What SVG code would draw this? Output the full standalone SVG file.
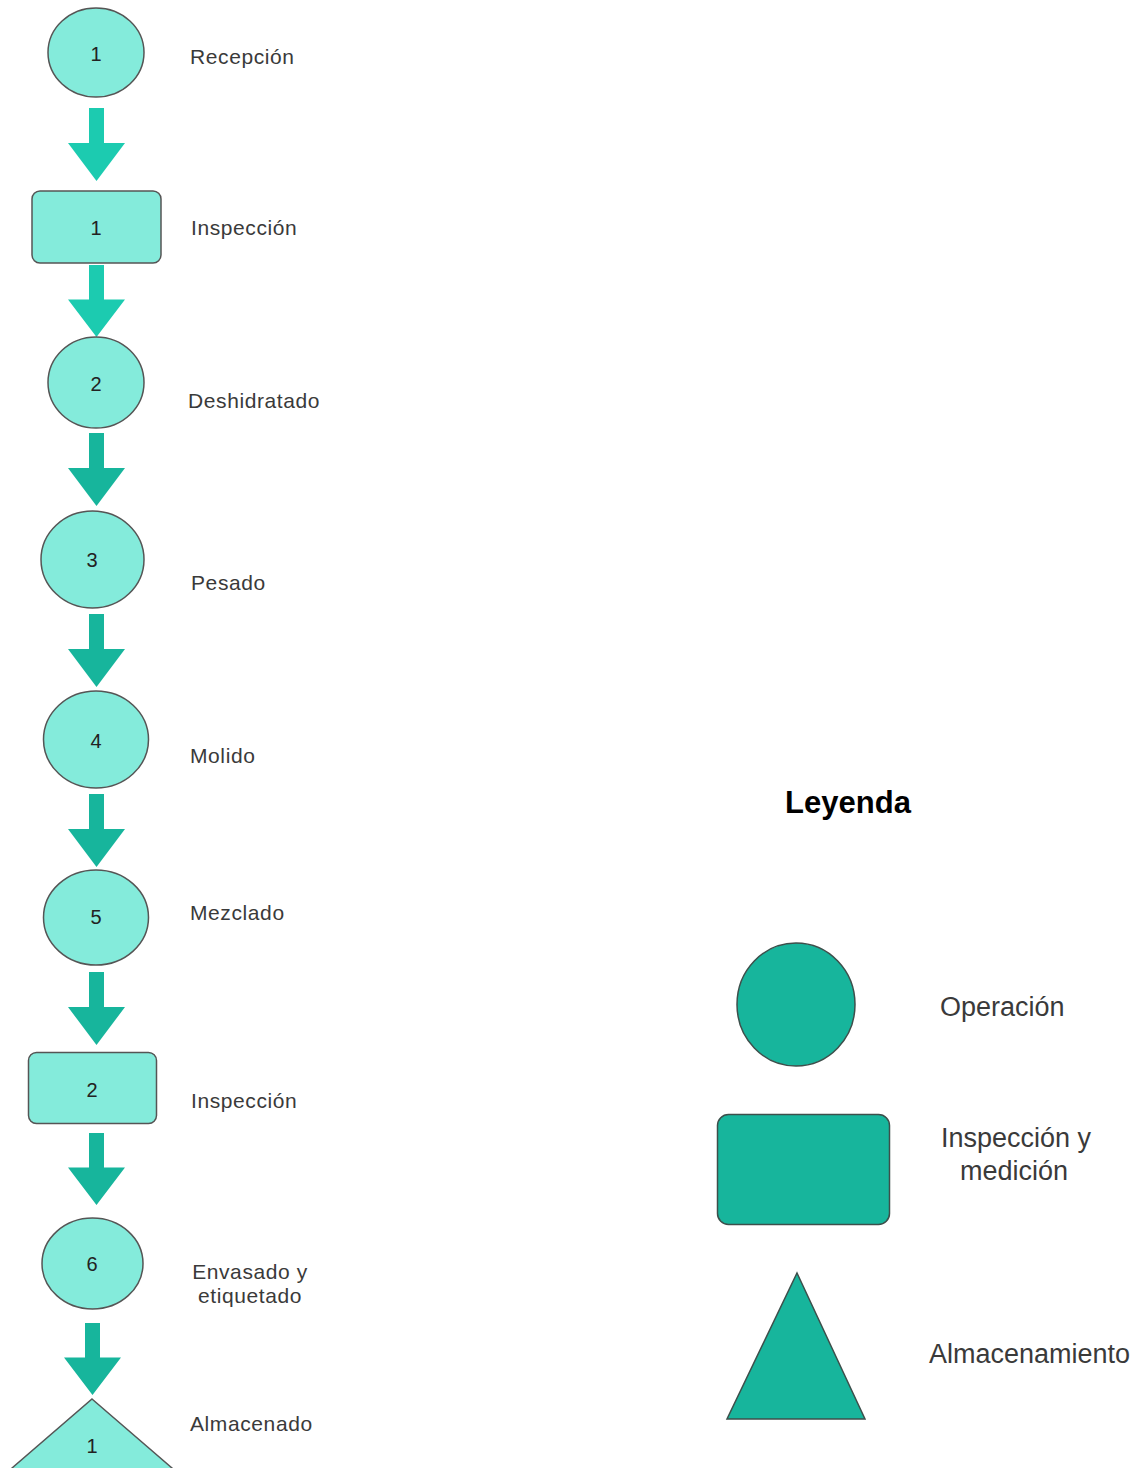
<svg xmlns="http://www.w3.org/2000/svg" width="1136" height="1468" viewBox="0 0 1136 1468">
<style>
.node{fill:#84ebdb;stroke:#555;stroke-width:1.5}
.leg{fill:#17b59c;stroke:#3d4f4b;stroke-width:1.5}
.num{font-family:"Liberation Sans",Arial,sans-serif;font-size:20px;fill:#222;text-anchor:middle}
.lbl{font-family:"Liberation Sans",Arial,sans-serif;font-size:21px;fill:#3a3a3a;letter-spacing:0.6px}
.llbl{font-family:"Liberation Sans",Arial,sans-serif;font-size:27px;fill:#3a3a3a}
.a1{fill:#1ccbb0}
.a2{fill:#17b59c}
</style>
<defs>
<path id="arr" d="M-7.5,0 H7.5 V35 H28.5 L0,73 L-28.5,35 H-7.5 Z"/>
</defs>
<rect width="1136" height="1468" fill="#fff"/>
<g id="connectors">
<use href="#arr" class="a1" transform="translate(96.5,108)"/>
<use href="#arr" class="a1" transform="translate(96.5,265) scale(1,0.986)"/>
<use href="#arr" class="a2" transform="translate(96.5,433)"/>
<use href="#arr" class="a2" transform="translate(96.5,614)"/>
<use href="#arr" class="a2" transform="translate(96.5,794)"/>
<use href="#arr" class="a2" transform="translate(96.5,972)"/>
<use href="#arr" class="a2" transform="translate(96.5,1133) scale(1,0.986)"/>
<use href="#arr" class="a2" transform="translate(92.5,1323) scale(1,0.986)"/>
</g>
<g id="n1"><ellipse class="node" cx="96" cy="52.5" rx="48" ry="44.5"/><text class="num" x="96" y="61">1</text><text class="lbl" x="190" y="64">Recepción</text></g>
<g id="i1"><rect class="node" x="32" y="191" width="129" height="72" rx="8"/><text class="num" x="96" y="235">1</text><text class="lbl" x="191" y="235">Inspección</text></g>
<g id="n2"><ellipse class="node" cx="96" cy="382.5" rx="48" ry="45.5"/><text class="num" x="96" y="391">2</text><text class="lbl" x="188" y="408">Deshidratado</text></g>
<g id="n3"><ellipse class="node" cx="92.5" cy="559.5" rx="51.5" ry="48.5"/><text class="num" x="92" y="567">3</text><text class="lbl" x="191" y="590">Pesado</text></g>
<g id="n4"><ellipse class="node" cx="96" cy="739.5" rx="52.5" ry="48.5"/><text class="num" x="96" y="748">4</text><text class="lbl" x="190" y="763">Molido</text></g>
<g id="n5"><ellipse class="node" cx="96" cy="917.5" rx="52.5" ry="47.5"/><text class="num" x="96" y="924">5</text><text class="lbl" x="190" y="920">Mezclado</text></g>
<g id="i2"><rect class="node" x="28.5" y="1052.5" width="128" height="71" rx="8"/><text class="num" x="92" y="1097">2</text><text class="lbl" x="191" y="1108">Inspección</text></g>
<g id="n6"><ellipse class="node" cx="92.5" cy="1263.5" rx="50.5" ry="45.5"/><text class="num" x="92" y="1271">6</text><text class="lbl" x="250" y="1279" text-anchor="middle">Envasado y</text><text class="lbl" x="250" y="1303" text-anchor="middle">etiquetado</text></g>
<g id="s1"><polygon class="node" points="92,1399 172,1468 185,1480 -1,1480 12,1468"/><text class="num" x="92" y="1453">1</text><text class="lbl" x="190" y="1431">Almacenado</text></g>
<g id="legend">
<text x="848" y="813" text-anchor="middle" font-family="Liberation Sans,Arial,sans-serif" font-size="31" font-weight="bold" fill="#000">Leyenda</text>
<ellipse class="leg" cx="796" cy="1004.5" rx="59" ry="61.5"/>
<text class="llbl" x="940" y="1016">Operación</text>
<rect class="leg" x="717.5" y="1114.5" width="172" height="110" rx="11"/>
<text class="llbl" x="1016" y="1147" text-anchor="middle">Inspección y</text>
<text class="llbl" x="1014" y="1180" text-anchor="middle">medición</text>
<polygon class="leg" points="797,1273 865,1419 727,1419"/>
<text class="llbl" x="929" y="1363">Almacenamiento</text>
</g>
</svg>
